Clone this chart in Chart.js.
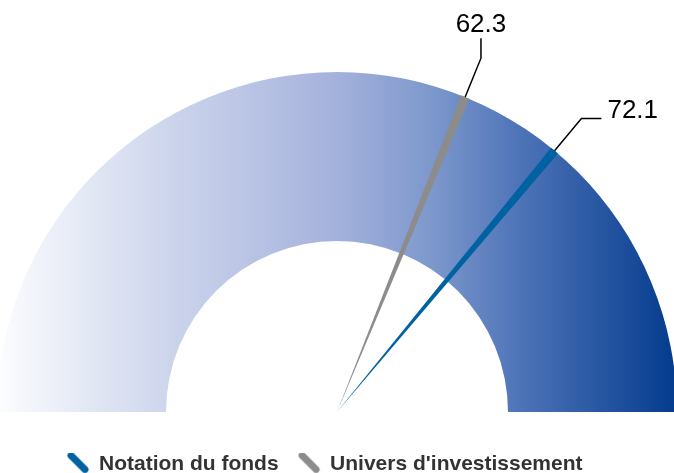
<!DOCTYPE html>
<html>
<head>
<meta charset="utf-8">
<script src="https://cdn.jsdelivr.net/npm/chart.js@4"></script>
<style>
  html, body { margin: 0; padding: 0; background: #fff; }
  #wrap { width: 674px; height: 473px; }
</style>
</head>
<body>
<div id="wrap"><canvas id="gaugeChart"></canvas></div>
<script>
// Gauge scale and readings
const gaugeRange = [0, 100];
const seriesNames = ['Notation du fonds', "Univers d'investissement"];
const seriesValues = [72.1, 62.3];
const seriesColors = ['#0062a0', '#8c8c8c'];
// leader line direction for each label
const labelTurn = ['right', 'up'];

const FONT = 'Arial, "Liberation Sans", sans-serif';

// needle shaped legend icons
function legendIcon(color) {
  const c = document.createElement('canvas');
  c.width = 24; c.height = 24;
  const g = c.getContext('2d');
  g.strokeStyle = color;
  g.lineWidth = 7;
  g.lineCap = 'round';
  g.beginPath();
  g.moveTo(5, 3);
  g.lineTo(19, 17);
  g.stroke();
  return c;
}

const needlePlugin = {
  id: 'needles',
  afterDatasetsDraw(chart) {
    const arc = chart.getDatasetMeta(0).data[0];
    if (!arc) return;
    const { x, y, outerRadius, startAngle, endAngle } = arc.getProps(['x', 'y', 'outerRadius', 'startAngle', 'endAngle'], true);
    const ctx = chart.ctx;
    // draw grey (universe) first, then fund on top
    for (let i = seriesValues.length - 1; i >= 0; i--) {
      const v = seriesValues[i];
      const a = startAngle + (v - gaugeRange[0]) / (gaugeRange[1] - gaugeRange[0]) * (endAngle - startAngle);
      const cos = Math.cos(a), sin = Math.sin(a);
      const bx = x + outerRadius * cos, by = y + outerRadius * sin;
      const hw = 4.5;
      ctx.save();
      ctx.fillStyle = seriesColors[i];
      ctx.beginPath();
      ctx.moveTo(x, y);
      ctx.lineTo(bx - hw * sin, by + hw * cos);
      ctx.lineTo(bx + hw * sin, by - hw * cos);
      ctx.closePath();
      ctx.fill();

      // leader line + value label
      const p1x = bx + 42 * cos, p1y = by + 42 * sin;
      let p2x = p1x, p2y = p1y;
      if (labelTurn[i] === 'up') p2y -= 20; else p2x += 20;
      ctx.strokeStyle = '#000';
      ctx.lineWidth = 1.5;
      ctx.beginPath();
      ctx.moveTo(bx, by);
      ctx.lineTo(p1x, p1y);
      ctx.lineTo(p2x, p2y);
      ctx.stroke();

      ctx.fillStyle = '#000';
      ctx.font = '26px ' + FONT;
      ctx.textBaseline = 'alphabetic';
      if (labelTurn[i] === 'up') {
        ctx.textAlign = 'center';
        ctx.fillText(v.toFixed(1), p2x, p2y - 6);
      } else {
        ctx.textAlign = 'left';
        ctx.fillText(v.toFixed(1), p2x + 6, p2y);
      }
      ctx.restore();
    }
  }
};

// push the legend a little lower and to the left
const legendShift = {
  id: 'legendShift',
  beforeInit(chart) {
    const origFit = chart.legend.fit;
    chart.legend.fit = function () {
      origFit.bind(chart.legend)();
      this.height -= 12;
    };
  },
  afterLayout(chart) {
    chart.legend.left -= 12;
    chart.legend.right -= 12;
  }
};

const ctx = document.getElementById('gaugeChart').getContext('2d');
new Chart(ctx, {
  type: 'doughnut',
  data: {
    labels: ['gauge'],
    datasets: [{
      data: [gaugeRange[1] - gaugeRange[0]],
      borderWidth: 0,
      backgroundColor(c) {
        const area = c.chart.chartArea;
        if (!area) return '#a3b1dc';
        const g = c.chart.ctx.createLinearGradient(area.left, 0, area.right, 0);
        g.addColorStop(0, '#fbfcfe');
        g.addColorStop(0.25, '#cdd5ec');
        g.addColorStop(0.5, '#a4b1dc');
        g.addColorStop(0.64, '#7d98cc');
        g.addColorStop(0.77, '#4e74b8');
        g.addColorStop(1, '#053c8e');
        return g;
      }
    }]
  },
  options: {
    responsive: true,
    maintainAspectRatio: false,
    animation: false,
    rotation: -90,
    circumference: 180,
    radius: 340,
    cutout: '50.3%',
    layout: { padding: { top: 50, left: 0, right: 0, bottom: 0 } },
    events: [],
    plugins: {
      tooltip: { enabled: false },
      legend: {
        position: 'bottom',
        labels: {
          usePointStyle: true,
          boxWidth: 21,
          padding: 20,
          color: '#333',
          font: { family: FONT, size: 21, weight: 'bold' },
          generateLabels() {
            return seriesNames.map((name, i) => ({
              text: name,
              fillStyle: seriesColors[i],
              strokeStyle: seriesColors[i],
              lineWidth: 0,
              pointStyle: legendIcon(seriesColors[i]),
              hidden: false,
              fontColor: '#333',
              index: i
            }));
          }
        }
      }
    }
  },
  plugins: [needlePlugin, legendShift]
});
</script>
</body>
</html>
